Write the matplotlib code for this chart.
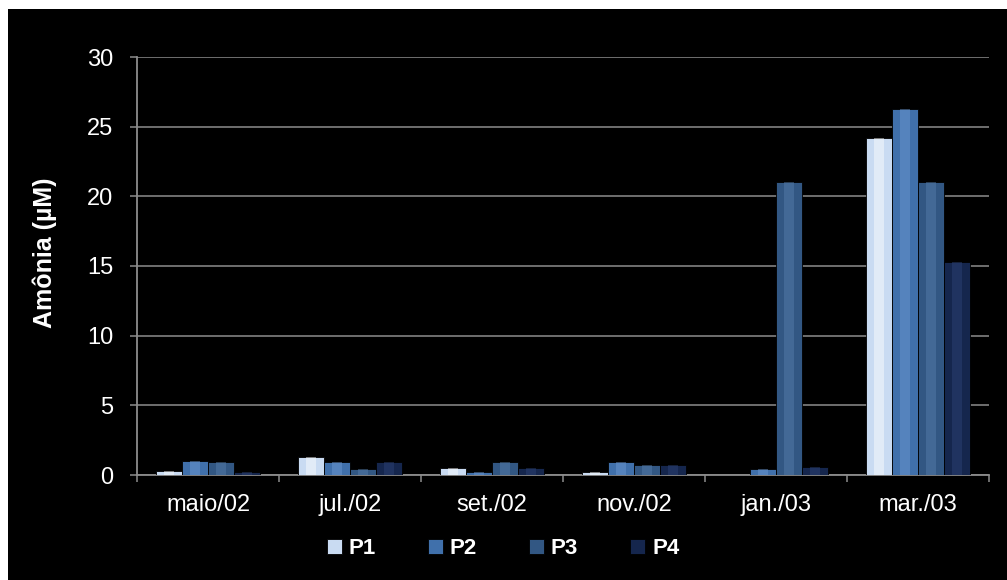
import matplotlib
matplotlib.use("Agg")
import matplotlib.pyplot as plt
from matplotlib.patches import Rectangle
import numpy as np

categories = ["maio/02", "jul./02", "set./02", "nov./02", "jan./03", "mar./03"]
series_names = ["P1", "P2", "P3", "P4"]
p1 = [0.3, 1.3, 0.5, 0.2, 0.0, 24.2]
p2 = [1.0, 0.9, 0.2, 0.9, 0.4, 26.3]
p3 = [0.9, 0.4, 0.9, 0.7, 21.0, 21.0]
p4 = [0.2, 0.9, 0.5, 0.7, 0.6, 15.3]
yticks = [0, 5, 10, 15, 20, 25, 30]

colors = ["#c9dbf2", "#4070ab", "#325783", "#15264d"]
highlights = ["#ffffff", "#6f9bd3", "#587fae", "#2f4478"]

plt.rcParams['font.family'] = ['Liberation Sans', 'DejaVu Sans']

W, H = 1007, 580
fig = plt.figure(figsize=(W / 100, H / 100), dpi=100, facecolor="white")
fig.patches.append(Rectangle((8 / W, 0), 1 - 8 / W, 1 - 9 / H, transform=fig.transFigure,
                             facecolor="black", edgecolor="none", zorder=-10))

ax = fig.add_axes([137 / W, 1 - 475 / H, (989 - 137) / W, (475 - 57) / H])
ax.set_facecolor("black")

x = np.arange(len(categories))
bw = 0.183
data = [p1, p2, p3, p4]
for i, (vals, c, hc, name) in enumerate(zip(data, colors, highlights, series_names)):
    pos = x + (i - 1.5) * bw
    ax.bar(pos, vals, width=bw, color=c, edgecolor="#000000", linewidth=0.6,
           label=name, zorder=3)
    ax.bar(pos, vals, width=bw * 0.35, color=hc, alpha=0.45, edgecolor="none", zorder=4)

ax.set_xlim(-0.5, len(categories) - 0.5)
ax.set_ylim(0, 30)
ax.set_yticks(yticks)
ax.set_yticklabels([str(v) for v in yticks], color="white", fontsize=17)
ax.yaxis.grid(True, color="#8c8c8c", linewidth=1.1, zorder=1)
ax.set_axisbelow(True)

ax.set_xticks(x)
ax.set_xticklabels(categories, color="white", fontsize=17)
ax.set_xticks(np.arange(-0.5, len(categories)), minor=True)
ax.tick_params(axis="x", which="major", length=0, pad=14)
ax.tick_params(axis="x", which="minor", length=5, color="#8c8c8c", width=1.1)
ax.tick_params(axis="y", length=5, color="#8c8c8c", width=1.1, pad=12)

for s in ["top", "right"]:
    ax.spines[s].set_visible(False)
for s in ["left", "bottom"]:
    ax.spines[s].set_color("#8c8c8c")
    ax.spines[s].set_linewidth(1.3)

fig.text(45 / W, 1 - 253 / H, "Amônia (µM)", color="white", fontsize=18, fontweight="bold",
         rotation=90, ha="center", va="center")

leg = fig.legend(loc="center", bbox_to_anchor=(503 / W, 1 - 549 / H), ncol=4, frameon=False,
                 handlelength=0.68, handleheight=0.68, handletextpad=0.3, columnspacing=2.35,
                 prop={"weight": "bold", "size": 16})
for t in leg.get_texts():
    t.set_color("white")

fig.savefig("out.png", dpi=100, facecolor=fig.get_facecolor())
